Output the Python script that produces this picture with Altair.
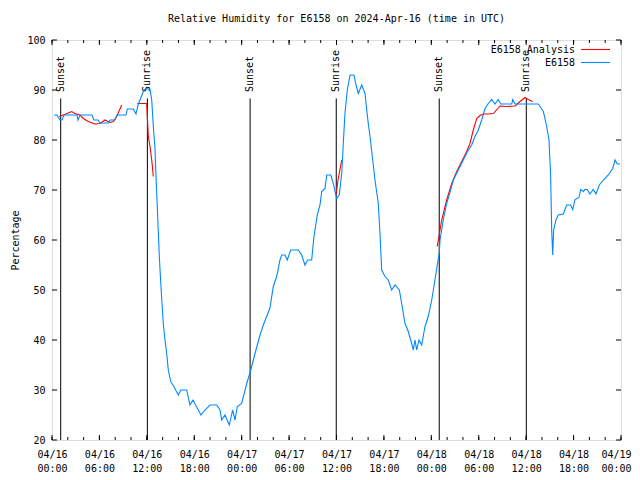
import altair as alt
import pandas as pd

title_text = "Relative Humidity for E6158 on 2024-Apr-16 (time in UTC)"
series_names = ["E6158 Analysis", "E6158"]
series_colors = ["#ff0000", "#0088ff"]

# Observations: hours since 2024-04-16 00:00 UTC, relative humidity (%)
obs_hours = [0.25, 0.63, 1.01, 1.27, 1.52, 3.16, 3.29, 3.54, 5.06, 5.31, 5.82, 6.07, 7.09, 7.34, 7.97,
             8.22, 9.36, 9.53, 10.29, 10.63, 10.88, 11.26, 11.64, 11.98, 12.40, 12.62, 12.82, 13.03,
             13.16, 13.32, 13.45, 13.58, 13.75, 13.92, 14.08, 14.30, 14.51, 14.72, 15.02, 15.31, 15.98,
             16.29, 17.04, 17.46, 17.84, 18.85, 19.36, 19.99, 20.84, 21.26, 21.47, 21.89, 22.43, 22.86,
             23.16, 23.45, 24.00, 24.64, 25.12, 25.69, 26.32, 26.74, 27.58, 28.00, 28.43, 28.85, 29.07,
             29.48, 29.77, 30.20, 31.17, 31.60, 32.01, 32.35, 32.86, 33.15, 33.57, 33.91, 34.13, 34.54,
             34.76, 35.27, 35.59, 35.81, 36.02, 36.35, 36.66, 36.86, 37.07, 37.37, 37.71, 38.21, 38.47,
             38.76, 39.19, 39.61, 39.82, 40.02, 40.24, 40.58, 40.87, 41.29, 41.50, 41.72, 42.14, 42.55,
             42.98, 43.40, 43.95, 44.25, 44.67, 45.08, 45.51, 45.72, 45.93, 46.15, 46.44, 46.78, 47.20,
             47.61, 48.05, 48.46, 48.75, 49.01, 49.10, 49.51, 49.94, 50.36, 50.78, 51.41, 52.04, 52.68,
             53.11, 53.52, 53.94, 54.37, 54.79, 55.21, 55.64, 56.05, 56.47, 56.78, 58.17, 58.30, 58.59,
             61.54, 62.17, 62.60, 62.89, 63.10, 63.23, 63.36, 63.48, 63.77, 64.06, 64.70, 65.13, 65.63,
             65.89, 66.18, 66.68, 66.90, 67.23, 67.44, 67.73, 68.07, 68.49, 68.83, 69.25, 69.76, 70.39,
             70.95, 71.24, 71.53, 71.87]
obs_rh = [85, 85, 84, 84, 85, 85, 84, 85, 85, 84, 84, 83.4, 83.4, 84, 84,
          85, 85, 86.2, 86.2, 85.2, 87, 88.5, 90, 90.3, 90.1, 88, 82.7, 78.3,
          72.7, 66.7, 61.7, 56.7, 51.7, 47.3, 43.3, 40, 37.3, 34, 31.7, 31, 29,
          30, 30, 27, 28, 25, 26, 27, 27, 26, 24, 25, 23, 26,
          24, 26.7, 27.3, 31.3, 33.8, 37.3, 41, 43, 46.4, 50.7, 52.7, 56, 57,
          57, 56, 58, 58, 57, 55, 56, 56, 60.7, 65, 67, 69.7, 70.3,
          73, 73, 71.3, 69.7, 68.3, 69, 73.3, 79.3, 85.3, 90, 93, 93, 91,
          89.3, 91, 89.3, 86, 83.3, 80.7, 76, 72, 67.3, 61.3, 54, 52.7, 52,
          50, 51, 50, 47.3, 43.3, 41.7, 39.3, 38, 40, 38, 40, 39, 42.7,
          44.7, 48, 52, 55, 57.5, 60, 64, 67.3, 69.5, 72, 74, 76, 78,
          79, 80.7, 82, 84, 86.3, 87.3, 88.1, 87.2, 88.1, 87.2, 87.2, 88.1, 87.2,
          87.2, 85.7, 82.7, 80, 72.7, 62, 57, 62, 64, 65, 65.2, 67, 67,
          66.1, 68.1, 68.5, 70.1, 69.7, 70.1, 70.1, 69.2, 70.1, 69.2, 71, 72, 73,
          74.3, 76, 75.2, 75.2]

# Analysis: hours, RH, segment id
ana_hours = [0.92, 1.43, 2.49, 2.91, 3.54, 3.96, 4.59, 5.44, 6.07, 6.71, 7.34, 7.76, 8.19, 8.82,
             10.79, 11.98, 12.06, 12.19, 12.40, 12.62, 12.82,
             35.94, 36.19, 36.66,
             48.75, 49.31, 49.94, 50.58, 51.21, 52.04, 52.47, 52.89, 53.31, 53.74, 54.16, 54.58,
             55.21, 55.84, 56.69, 57.54, 58.59, 59.22, 59.85, 60.27, 60.82]
ana_rh = [84.7, 85, 85.7, 85.3, 85, 84.3, 83.7, 83.2, 83.3, 84, 83.5, 83.7, 84.7, 87,
          87.3, 87.3, 84.7, 80.7, 78.7, 76, 72.7,
          69, 72, 76,
          58.7, 64, 68, 71.3, 73.7, 76.3, 77.7, 79.3, 82, 84.3, 84.9, 85.2,
          85.2, 85.3, 86.8, 86.7, 86.8, 87.7, 88.5, 88.1, 87.7]
ana_seg = [1] * 14 + [2] * 7 + [3] * 3 + [4] * 21

event_hours = [1.10, 12.07, 25.07, 35.97, 49.0, 60.02]
event_names = ["Sunset", "Sunrise", "Sunset", "Sunrise", "Sunset", "Sunrise"]

x_major = list(range(0, 73, 6))
x_minor = list(range(0, 73, 2))
y_major = list(range(20, 101, 10))

W, H = 569, 400
FONT = "DejaVu Sans Mono"

obs = pd.DataFrame({"h": obs_hours, "rh": obs_rh})
ana = pd.DataFrame({"h": ana_hours, "rh": ana_rh, "seg": ana_seg})
ev = pd.DataFrame({"h": event_hours, "name": event_names})
xmaj = pd.DataFrame({"h": x_major})
xmin = pd.DataFrame({"h": x_minor})
ymaj = pd.DataFrame({"rh": y_major})
one = pd.DataFrame({"a": [0]})

xscale = alt.Scale(domain=[0, 72], nice=False, zero=False)
yscale = alt.Scale(domain=[20, 100], nice=False, zero=False)
xaxis = alt.Axis(
    values=x_major, title=None, domain=False, ticks=False, grid=False,
    labelExpr="['04/' + (16 + floor(datum.value / 24)), ((datum.value % 24) < 10 ? '0' : '') + (datum.value % 24) + ':00']",
    labelPadding=9, labelLineHeight=14, labelFont=FONT, labelFontSize=10, labelColor="black",
    labelFlush=False, labelOverlap=False,
    labelOffset={"condition": {"test": "datum.value == 72", "value": -5}, "value": 0},
)
yaxis = alt.Axis(
    values=y_major, title="Percentage", domain=False, ticks=False, grid=False,
    labelPadding=7, labelFont=FONT, labelFontSize=10, labelColor="black",
    titleFont=FONT, titleFontSize=10, titleFontWeight="normal", titleColor="black",
    titleX=-37, titleY=H / 2, titleAngle=270, titleAlign="center", titleBaseline="middle",
)

X = alt.X("h:Q", scale=xscale, axis=xaxis)
Y = alt.Y("rh:Q", scale=yscale, axis=yaxis)

ev_rules = alt.Chart(ev).mark_rule(color="black", strokeWidth=1).encode(
    x=X, y=alt.value(58.5), y2=alt.value(H))
ev_text = alt.Chart(ev).mark_text(angle=270, align="left", baseline="middle", font=FONT,
                                  fontSize=10, color="black").encode(
    x=X, y=alt.value(52), text="name:N")

ana_line = alt.Chart(ana).mark_line(color=series_colors[0], strokeWidth=1.1).encode(
    x=X, y=Y, detail="seg:N")
obs_line = alt.Chart(obs).mark_line(color=series_colors[1], strokeWidth=1.1).encode(x=X, y=Y)

tk = dict(color="black", strokeWidth=1)
xb_maj = alt.Chart(xmaj).mark_rule(**tk).encode(x=X, y=alt.value(H), y2=alt.value(H - 5))
xt_maj = alt.Chart(xmaj).mark_rule(**tk).encode(x=X, y=alt.value(0), y2=alt.value(5))
xb_min = alt.Chart(xmin).mark_rule(**tk).encode(x=X, y=alt.value(H), y2=alt.value(H - 3))
xt_min = alt.Chart(xmin).mark_rule(**tk).encode(x=X, y=alt.value(0), y2=alt.value(3))
yl = alt.Chart(ymaj).mark_rule(**tk).encode(y=Y, x=alt.value(0), x2=alt.value(5))
yr = alt.Chart(ymaj).mark_rule(**tk).encode(y=Y, x=alt.value(W), x2=alt.value(W - 5))

legend_layers = []
for i, (name, col) in enumerate(zip(series_names, series_colors)):
    yy = 10 + 13 * i
    legend_layers.append(
        alt.Chart(one).mark_text(align="right", baseline="middle", font=FONT, fontSize=10,
                                 color="black").encode(
            x=alt.value(523), y=alt.value(yy), text=alt.value(name)))
    legend_layers.append(
        alt.Chart(one).mark_rule(color=col, strokeWidth=1.1).encode(
            x=alt.value(529), x2=alt.value(558), y=alt.value(yy - 0.5)))

chart = alt.layer(
    ev_rules, ev_text, ana_line, obs_line,
    xb_maj, xt_maj, xb_min, xt_min, yl, yr, *legend_layers
).properties(
    width=W, height=H,
    title=alt.TitleParams(title_text, font=FONT, fontSize=10, fontWeight="normal",
                          color="black", anchor="middle", frame="group", offset=11),
    autosize=alt.AutoSizeParams(type="none"),
    padding={"left": 44, "top": 32, "right": 11, "bottom": 32},
).configure_view(stroke="black", strokeWidth=1).configure(background="white")

chart.save("out.html", embed_options={"renderer": "svg", "actions": False})
